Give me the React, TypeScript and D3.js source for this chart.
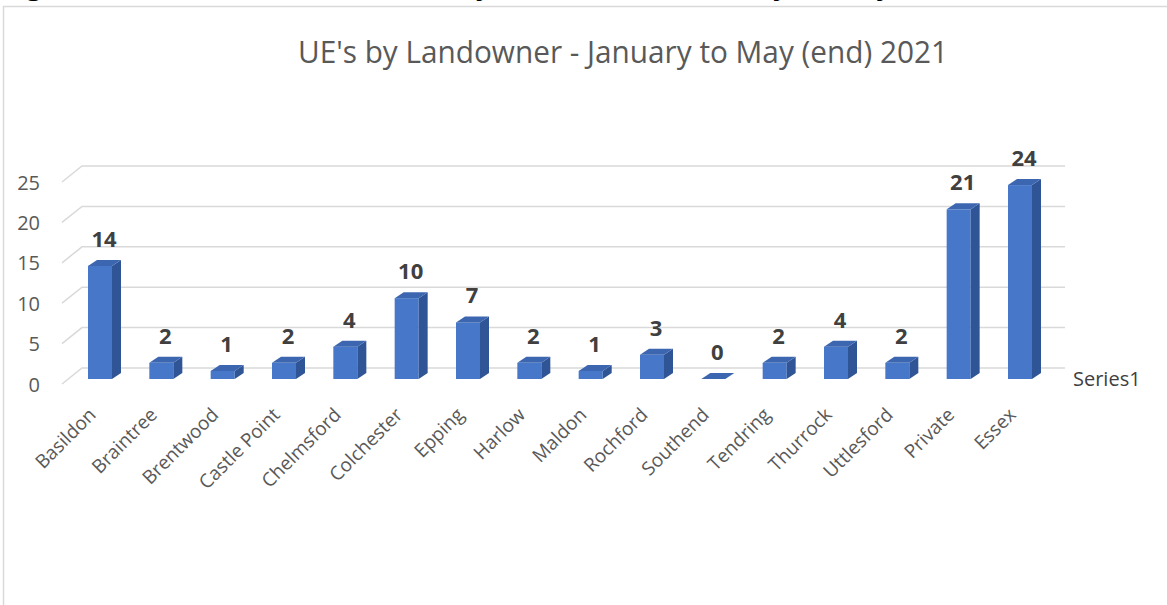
import React from "react";
import * as d3 from "d3";

const categories = ["Basildon","Braintree","Brentwood","Castle Point","Chelmsford","Colchester","Epping","Harlow","Maldon","Rochford","Southend","Tendring","Thurrock","Uttlesford","Private","Essex"];
const values = [14,2,1,2,4,10,7,2,1,3,0,2,4,2,21,24];
const yTicks = [0,5,10,15,20,25];
const seriesName = "Series1";
const chartTitle = "UE's by Landowner - January to May (end) 2021";
const captionA = "Figure 3: Number of UE's";
const captionB = "by Landowner - January to May (end) 2021";

const W = 1167, H = 605;

export default function App() {
  const y = d3.scaleLinear().domain([0, 25]).range([368, 166]);
  const x = d3.scalePoint<string>().domain(categories).range([100, 1020]);
  const gridX0 = 82, gridX1 = 1065, fdx = -20, fdy = 16;
  const barDY = 11;
  const half = 12, sdx = 9, sdy = 6;
  const font = "'Open Sans', 'Liberation Sans', sans-serif";

  return (
    <svg width={W} height={H} style={{ position: "absolute", left: 0, top: 0, background: "#fff" }}>
      <text x={0} y={-6} fontFamily={font} fontWeight="bold" fontSize={28} fill="#000">
        <tspan x={2}>{captionA}</tspan>
        <tspan x={458}>{captionB}</tspan>
      </text>
      <rect x={3.5} y={6.5} width={W + 20} height={H + 20} fill="none" stroke="#d9d9d9" strokeWidth={1.5} />
      <text x={623} y={63} textAnchor="middle" fontFamily={font} fontSize={31} fill="#595959" textLength={650} lengthAdjust="spacingAndGlyphs">{chartTitle}</text>
      {yTicks.map((t) => (
        <g key={t}>
          <path d={`M${gridX0 + fdx},${y(t) + fdy}L${gridX0},${y(t)}L${gridX1},${y(t)}`} fill="none" stroke="#d9d9d9" strokeWidth={1.5} />
          <text x={40} y={y(t) + fdy} textAnchor="end" dominantBaseline="central" fontFamily={font} fontSize={20} fill="#595959">{t}</text>
        </g>
      ))}
      {categories.map((c, i) => {
        const cx = x(c)!;
        const v = values[i];
        const bottom = y(0) + barDY;
        const top = y(v) + barDY;
        const l = cx - half, r = cx + half;
        return (
          <g key={c}>
            {v > 0 && <rect x={l} y={top} width={r - l} height={bottom - top} fill="#4677c9" />}
            {v > 0 && <path d={`M${r},${top}L${r + sdx},${top - sdy}L${r + sdx},${bottom - sdy}L${r},${bottom}Z`} fill="#2f5597" />}
            <path d={`M${l},${top}L${r},${top}L${r + sdx},${top - sdy}L${l + sdx},${top - sdy}Z`} fill="#3c67b0" />
            <text x={cx + 4} y={top - 19} textAnchor="middle" fontFamily={font} fontWeight="bold" fontSize={22} fill="#404040">{v}</text>
          </g>
        );
      })}
      {categories.map((c) => (
        <text key={c} transform={`translate(${x(c)! - 3},416) rotate(-45)`} textAnchor="end" fontFamily={font} fontSize={19} fill="#595959">{c}</text>
      ))}
      <text x={1073} y={378} dominantBaseline="central" fontFamily={font} fontSize={20} fill="#404040">{seriesName}</text>
    </svg>
  );
}
